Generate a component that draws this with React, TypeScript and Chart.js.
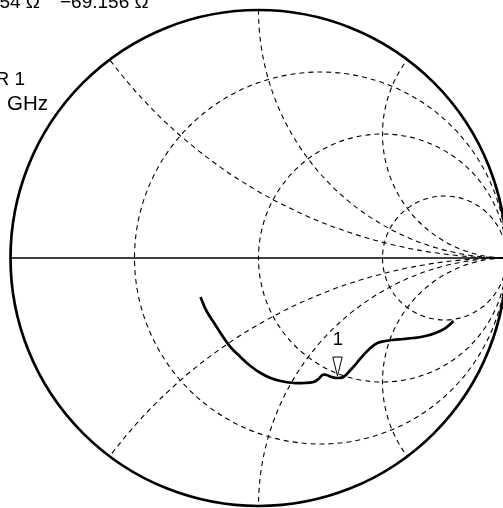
import { useEffect, useRef } from "react";
import { Chart, registerables } from "chart.js";

Chart.register(...registerables);

// ---- data (reflection coefficient) ----
const traceRe = [
  -0.2339, -0.2097, -0.1815, -0.1452, -0.1129, -0.0726, -0.0323, 0.0081, 0.0484, 0.0887,
  0.1411, 0.1815, 0.2218, 0.2419, 0.2581, 0.2742, 0.2944, 0.3185, 0.3427, 0.371,
  0.3992, 0.4234, 0.4516, 0.4798, 0.5121, 0.5403, 0.5847, 0.625, 0.6734, 0.7137,
  0.754, 0.7863,
];
const traceIm = [
  -0.1573, -0.2137, -0.2581, -0.3145, -0.3589, -0.3992, -0.4355, -0.4637, -0.4839, -0.496,
  -0.504, -0.504, -0.5, -0.4879, -0.4718, -0.4718, -0.4798, -0.4839, -0.4798, -0.4516,
  -0.4194, -0.3911, -0.3629, -0.3427, -0.3347, -0.3306, -0.3266, -0.3226, -0.3145, -0.3024,
  -0.2823, -0.254,
];
const markerRe = [0.3185];
const markerIm = [-0.476];
const markerLabels = ["1"];

// Smith grid values
const resistanceCircles = [1 / 3, 1, 3];
const reactanceArcs = [0.5, 1, 2];

// readout texts (partly cut by the picture's edges)
const impedanceReadout = ["54 Ω", "−69.156 Ω"];
const markerReadout = ["R 1", "GHz"];

const W = 503;
const H = 508;
const CX = 258.5;
const CY = 258;
const RAD = 248;
const FONT = "'Liberation Sans', Arial, sans-serif";

const smithGrid = {
  id: "smithGrid",
  beforeDatasetsDraw(chart: any) {
    const ctx = chart.ctx;
    const sx = chart.scales.x;
    const sy = chart.scales.y;
    const cx = sx.getPixelForValue(0);
    const cy = sy.getPixelForValue(0);
    const R = sx.getPixelForValue(1) - cx;
    ctx.save();
    ctx.beginPath();
    ctx.arc(cx, cy, R, 0, Math.PI * 2);
    ctx.clip();
    ctx.strokeStyle = "#000";
    ctx.lineWidth = 1.1;
    ctx.setLineDash([5, 4]);
    for (const r of resistanceCircles) {
      const c = sx.getPixelForValue(r / (1 + r));
      const rr = (1 / (1 + r)) * R;
      ctx.beginPath();
      ctx.arc(c, cy, rr, 0, Math.PI * 2);
      ctx.stroke();
    }
    for (const x of reactanceArcs) {
      for (const s of [1, -1]) {
        const c = sx.getPixelForValue(1);
        const cyy = sy.getPixelForValue(s / x);
        ctx.beginPath();
        ctx.arc(c, cyy, R / x, 0, Math.PI * 2);
        ctx.stroke();
      }
    }
    ctx.restore();
    ctx.save();
    ctx.strokeStyle = "#000";
    ctx.setLineDash([]);
    ctx.lineWidth = 1.5;
    ctx.beginPath();
    ctx.moveTo(sx.getPixelForValue(-1), cy);
    ctx.lineTo(sx.getPixelForValue(1), cy);
    ctx.stroke();
    ctx.lineWidth = 2.7;
    ctx.beginPath();
    ctx.arc(cx, cy, R, 0, Math.PI * 2);
    ctx.stroke();
    ctx.restore();
  },
  afterDatasetsDraw(chart: any) {
    const ctx = chart.ctx;
    const meta = chart.getDatasetMeta(1);
    ctx.save();
    ctx.strokeStyle = "#000";
    ctx.lineWidth = 1;
    meta.data.forEach((pt: any, i: number) => {
      const x = pt.x;
      const y = pt.y;
      ctx.fillStyle = "#fff";
      ctx.beginPath();
      ctx.moveTo(x, y);
      ctx.lineTo(x - 4.7, y - 19);
      ctx.lineTo(x + 4.7, y - 19);
      ctx.closePath();
      ctx.fill();
      ctx.stroke();
      ctx.fillStyle = "#000";
      ctx.font = `18.5px ${FONT}`;
      ctx.textAlign = "center";
      ctx.textBaseline = "alphabetic";
      ctx.fillText(markerLabels[i], x + 0.5, y - 31);
    });
    ctx.restore();
  },
  afterDraw(chart: any) {
    const ctx = chart.ctx;
    ctx.save();
    ctx.fillStyle = "#000";
    ctx.textBaseline = "alphabetic";
    ctx.font = `19px ${FONT}`;
    ctx.textAlign = "right";
    ctx.fillText(impedanceReadout[0], 40, 8);
    ctx.textAlign = "left";
    ctx.fillText(impedanceReadout[1], 60, 8);
    ctx.textAlign = "right";
    ctx.fillText(markerReadout[0], 25, 85);
    ctx.font = `20.5px ${FONT}`;
    ctx.textAlign = "left";
    ctx.fillText(markerReadout[1], 7, 110);
    ctx.restore();
  },
};

export default function App() {
  const ref = useRef<HTMLCanvasElement | null>(null);
  useEffect(() => {
    if (!ref.current) return;
    const chart = new Chart(ref.current, {
      type: "scatter",
      data: {
        datasets: [
          {
            data: traceRe.map((v, i) => ({ x: v, y: traceIm[i] })),
            showLine: true,
            borderColor: "#000",
            borderWidth: 2.7,
            pointRadius: 0,
            tension: 0.4,
            fill: false,
          },
          {
            data: markerRe.map((v, i) => ({ x: v, y: markerIm[i] })),
            showLine: false,
            pointRadius: 0,
          },
        ],
      },
      options: {
        animation: false,
        responsive: false,
        maintainAspectRatio: false,
        devicePixelRatio: 1,
        layout: { padding: 0 },
        plugins: { legend: { display: false }, tooltip: { enabled: false } },
        scales: {
          x: { type: "linear", display: false, min: -CX / RAD, max: (W - CX) / RAD },
          y: { type: "linear", display: false, min: -(H - CY) / RAD, max: CY / RAD },
        },
      },
      plugins: [smithGrid],
    });
    return () => chart.destroy();
  }, []);
  return (
    <div
      style={{
        position: "fixed",
        left: 0,
        top: 0,
        width: W,
        height: H,
        overflow: "hidden",
        background: "#fff",
      }}
    >
      <canvas ref={ref} width={W} height={H} style={{ display: "block" }} />
    </div>
  );
}
